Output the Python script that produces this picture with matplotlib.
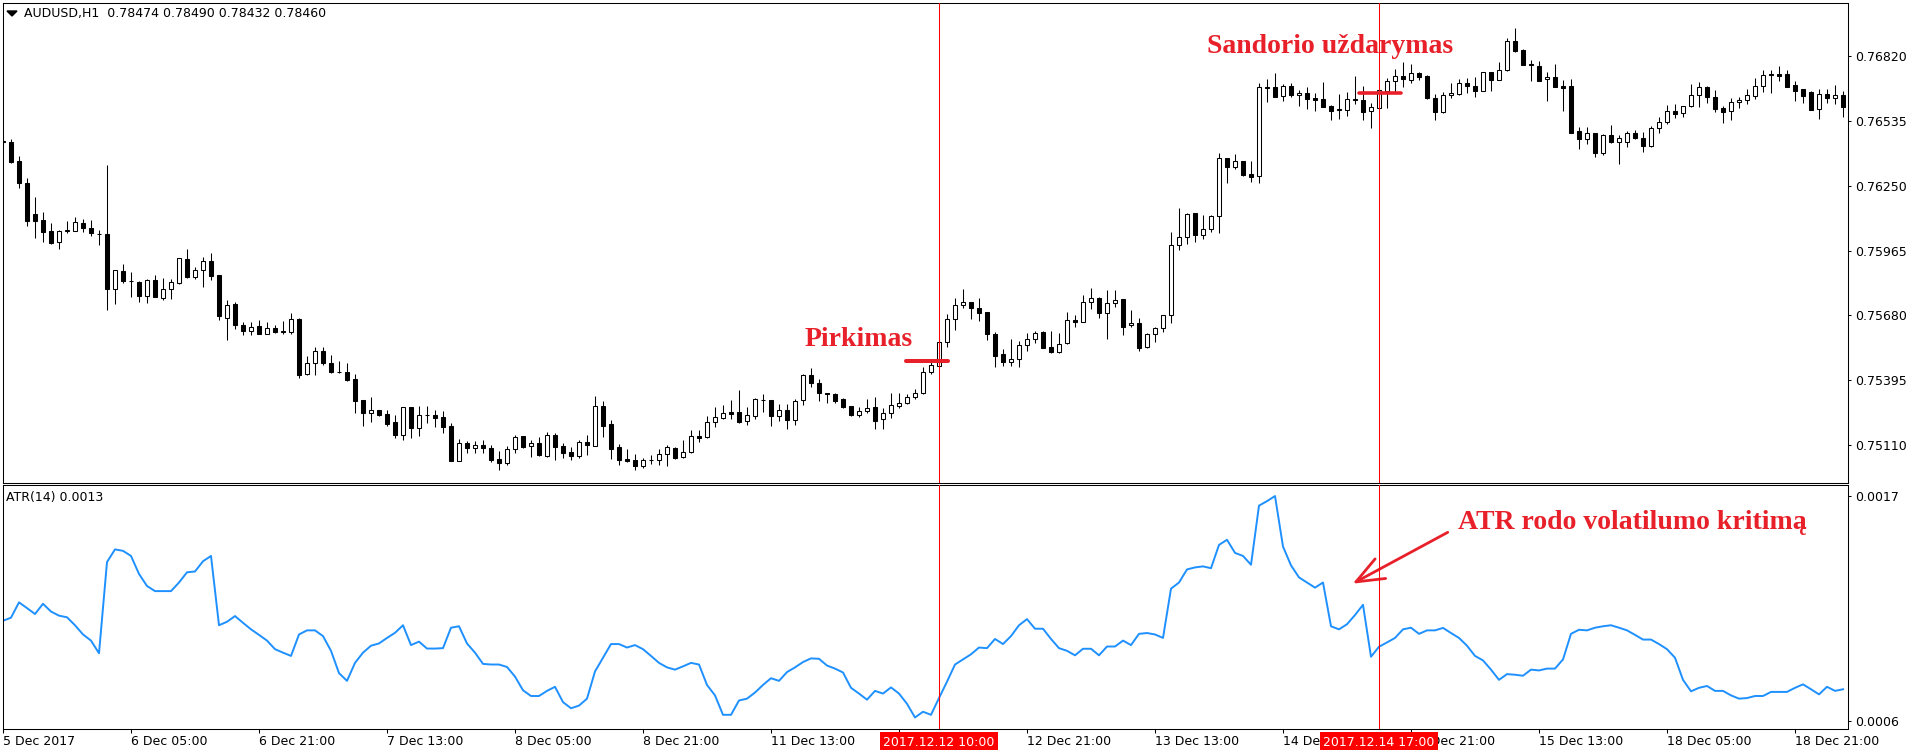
import matplotlib
matplotlib.use('Agg')
import matplotlib.pyplot as plt
import numpy as np
from matplotlib.patches import Polygon

# AUDUSD H1 candles, bar 0 = 5 Dec 13:00
opens = [
    0.76445, 0.76440, 0.76357, 0.76262, 0.76124, 0.76099, 0.76051, 0.76001, 0.76052, 0.76052,
    0.76084, 0.76065, 0.76039, 0.76036, 0.75797, 0.75874, 0.75831, 0.75827, 0.75764, 0.75834,
    0.75758, 0.75794, 0.75824, 0.75926, 0.75850, 0.75878, 0.75917, 0.75856, 0.75667, 0.75729,
    0.75638, 0.75613, 0.75633, 0.75600, 0.75623, 0.75610, 0.75608, 0.75664, 0.75422, 0.75469,
    0.75525, 0.75469, 0.75432, 0.75430, 0.75400, 0.75308, 0.75252, 0.75263, 0.75245, 0.75210,
    0.75154, 0.75276, 0.75186, 0.75244, 0.75242, 0.75235, 0.75194, 0.75041, 0.75118, 0.75096,
    0.75110, 0.75096, 0.75048, 0.75033, 0.75092, 0.75150, 0.75108, 0.75118, 0.75064, 0.75155,
    0.75106, 0.75078, 0.75064, 0.75124, 0.75108, 0.75281, 0.75203, 0.75102, 0.75049, 0.75043,
    0.75020, 0.75043, 0.75043, 0.75069, 0.75096, 0.75056, 0.75078, 0.75150, 0.75144, 0.75210,
    0.75231, 0.75254, 0.75254, 0.75215, 0.75239, 0.75308, 0.75308, 0.75239, 0.75263, 0.75219,
    0.75307, 0.75418, 0.75385, 0.75337, 0.75334, 0.75311, 0.75281, 0.75242, 0.75258, 0.75277,
    0.75223, 0.75249, 0.75280, 0.75293, 0.75320, 0.75337, 0.75430, 0.75459, 0.75565, 0.75663,
    0.75726, 0.75737, 0.75714, 0.75693, 0.75598, 0.75509, 0.75475, 0.75487, 0.75548, 0.75575,
    0.75608, 0.75540, 0.75518, 0.75557, 0.75658, 0.75652, 0.75737, 0.75755, 0.75689, 0.75733,
    0.75750, 0.75638, 0.75647, 0.75540, 0.75597, 0.75625, 0.75680, 0.75988, 0.76023, 0.76128,
    0.76035, 0.76058, 0.76117, 0.76370, 0.76334, 0.76357, 0.76300, 0.76291, 0.76681, 0.76682,
    0.76643, 0.76688, 0.76647, 0.76656, 0.76634, 0.76630, 0.76600, 0.76586, 0.76584, 0.76630,
    0.76627, 0.76577, 0.76593, 0.76668, 0.76709, 0.76731, 0.76715, 0.76744, 0.76732, 0.76634,
    0.76572, 0.76647, 0.76653, 0.76700, 0.76687, 0.76668, 0.76748, 0.76716, 0.76757, 0.76884,
    0.76846, 0.76785, 0.76775, 0.76717, 0.76726, 0.76687, 0.76687, 0.76489, 0.76454, 0.76480,
    0.76395, 0.76471, 0.76441, 0.76441, 0.76480, 0.76458, 0.76426, 0.76502, 0.76528, 0.76577,
    0.76568, 0.76599, 0.76647, 0.76682, 0.76638, 0.76590, 0.76577, 0.76616, 0.76625, 0.76646,
    0.76687, 0.76741, 0.76741, 0.76741, 0.76691, 0.76673, 0.76662, 0.76586, 0.76652, 0.76637,
    0.76647,
]
highs = [
    0.76473, 0.76454, 0.76380, 0.76282, 0.76200, 0.76133, 0.76084, 0.76055, 0.76095, 0.76111,
    0.76105, 0.76098, 0.76057, 0.76341, 0.75878, 0.75904, 0.75871, 0.75831, 0.75838, 0.75857,
    0.75844, 0.75838, 0.75933, 0.75972, 0.75894, 0.75937, 0.75953, 0.75858, 0.75748, 0.75737,
    0.75649, 0.75649, 0.75658, 0.75652, 0.75638, 0.75657, 0.75689, 0.75667, 0.75503, 0.75542,
    0.75542, 0.75506, 0.75479, 0.75469, 0.75422, 0.75310, 0.75320, 0.75266, 0.75264, 0.75242,
    0.75279, 0.75279, 0.75282, 0.75282, 0.75264, 0.75260, 0.75205, 0.75135, 0.75129, 0.75129,
    0.75131, 0.75109, 0.75083, 0.75106, 0.75155, 0.75152, 0.75133, 0.75146, 0.75166, 0.75162,
    0.75118, 0.75100, 0.75131, 0.75155, 0.75326, 0.75304, 0.75221, 0.75114, 0.75093, 0.75071,
    0.75054, 0.75065, 0.75093, 0.75110, 0.75102, 0.75133, 0.75177, 0.75177, 0.75238, 0.75278,
    0.75286, 0.75308, 0.75352, 0.75276, 0.75317, 0.75333, 0.75310, 0.75289, 0.75289, 0.75313,
    0.75422, 0.75447, 0.75400, 0.75341, 0.75337, 0.75315, 0.75283, 0.75278, 0.75311, 0.75322,
    0.75271, 0.75341, 0.75337, 0.75333, 0.75355, 0.75455, 0.75490, 0.75572, 0.75685, 0.75758,
    0.75795, 0.75740, 0.75755, 0.75695, 0.75608, 0.75531, 0.75575, 0.75569, 0.75601, 0.75611,
    0.75611, 0.75611, 0.75601, 0.75696, 0.75682, 0.75771, 0.75799, 0.75759, 0.75792, 0.75792,
    0.75751, 0.75704, 0.75667, 0.75601, 0.75630, 0.75682, 0.76045, 0.76150, 0.76128, 0.76130,
    0.76121, 0.76121, 0.76392, 0.76372, 0.76388, 0.76360, 0.76359, 0.76703, 0.76717, 0.76744,
    0.76697, 0.76700, 0.76671, 0.76682, 0.76659, 0.76706, 0.76603, 0.76653, 0.76660, 0.76734,
    0.76687, 0.76612, 0.76671, 0.76722, 0.76761, 0.76794, 0.76783, 0.76750, 0.76737, 0.76653,
    0.76663, 0.76700, 0.76717, 0.76722, 0.76726, 0.76751, 0.76751, 0.76792, 0.76898, 0.76943,
    0.76849, 0.76802, 0.76796, 0.76748, 0.76785, 0.76715, 0.76717, 0.76507, 0.76507, 0.76482,
    0.76477, 0.76515, 0.76473, 0.76490, 0.76495, 0.76484, 0.76512, 0.76553, 0.76605, 0.76609,
    0.76602, 0.76697, 0.76707, 0.76688, 0.76671, 0.76602, 0.76634, 0.76641, 0.76675, 0.76722,
    0.76758, 0.76758, 0.76776, 0.76758, 0.76710, 0.76675, 0.76666, 0.76673, 0.76675, 0.76693,
    0.76668,
]
lows = [
    0.76421, 0.76348, 0.76241, 0.76074, 0.76022, 0.76004, 0.75995, 0.75973, 0.76041, 0.76050,
    0.76048, 0.76030, 0.75989, 0.75704, 0.75731, 0.75824, 0.75762, 0.75739, 0.75736, 0.75759,
    0.75748, 0.75753, 0.75818, 0.75844, 0.75841, 0.75806, 0.75837, 0.75660, 0.75572, 0.75620,
    0.75594, 0.75595, 0.75597, 0.75597, 0.75604, 0.75597, 0.75597, 0.75406, 0.75418, 0.75419,
    0.75462, 0.75425, 0.75428, 0.75393, 0.75252, 0.75195, 0.75211, 0.75239, 0.75192, 0.75143,
    0.75132, 0.75143, 0.75151, 0.75208, 0.75191, 0.75162, 0.75039, 0.75039, 0.75074, 0.75077,
    0.75077, 0.75037, 0.75002, 0.75024, 0.75077, 0.75099, 0.75059, 0.75062, 0.75056, 0.75046,
    0.75055, 0.75045, 0.75055, 0.75068, 0.75106, 0.75147, 0.75051, 0.75024, 0.75037, 0.75002,
    0.75011, 0.75027, 0.75024, 0.75020, 0.75051, 0.75055, 0.75077, 0.75125, 0.75143, 0.75191,
    0.75223, 0.75226, 0.75209, 0.75198, 0.75226, 0.75257, 0.75194, 0.75218, 0.75182, 0.75198,
    0.75288, 0.75366, 0.75305, 0.75296, 0.75296, 0.75274, 0.75239, 0.75234, 0.75253, 0.75182,
    0.75182, 0.75231, 0.75271, 0.75289, 0.75311, 0.75335, 0.75421, 0.75457, 0.75543, 0.75616,
    0.75711, 0.75666, 0.75657, 0.75572, 0.75453, 0.75459, 0.75459, 0.75452, 0.75525, 0.75557,
    0.75536, 0.75516, 0.75516, 0.75556, 0.75630, 0.75651, 0.75710, 0.75667, 0.75578, 0.75718,
    0.75594, 0.75630, 0.75525, 0.75537, 0.75564, 0.75608, 0.75648, 0.75967, 0.75992, 0.76004,
    0.76014, 0.76048, 0.76041, 0.76263, 0.76322, 0.76293, 0.76268, 0.76260, 0.76618, 0.76640,
    0.76622, 0.76640, 0.76602, 0.76587, 0.76580, 0.76596, 0.76539, 0.76545, 0.76558, 0.76609,
    0.76537, 0.76502, 0.76592, 0.76590, 0.76663, 0.76685, 0.76700, 0.76715, 0.76633, 0.76539,
    0.76571, 0.76634, 0.76649, 0.76656, 0.76638, 0.76667, 0.76668, 0.76715, 0.76756, 0.76839,
    0.76779, 0.76710, 0.76711, 0.76624, 0.76684, 0.76580, 0.76482, 0.76413, 0.76435, 0.76375,
    0.76385, 0.76439, 0.76344, 0.76419, 0.76457, 0.76400, 0.76422, 0.76483, 0.76520, 0.76549,
    0.76553, 0.76594, 0.76597, 0.76612, 0.76575, 0.76527, 0.76540, 0.76590, 0.76608, 0.76632,
    0.76663, 0.76659, 0.76710, 0.76682, 0.76624, 0.76615, 0.76583, 0.76545, 0.76615, 0.76610,
    0.76553,
]
closes = [
    0.76440, 0.76353, 0.76260, 0.76096, 0.76096, 0.76048, 0.76000, 0.76051, 0.76054, 0.76089,
    0.76065, 0.76041, 0.76038, 0.75797, 0.75878, 0.75833, 0.75830, 0.75764, 0.75834, 0.75762,
    0.75794, 0.75825, 0.75931, 0.75850, 0.75878, 0.75917, 0.75852, 0.75677, 0.75726, 0.75636,
    0.75613, 0.75630, 0.75600, 0.75623, 0.75605, 0.75608, 0.75663, 0.75418, 0.75469, 0.75525,
    0.75472, 0.75432, 0.75431, 0.75396, 0.75304, 0.75252, 0.75264, 0.75242, 0.75203, 0.75154,
    0.75276, 0.75186, 0.75242, 0.75242, 0.75230, 0.75191, 0.75041, 0.75118, 0.75096, 0.75110,
    0.75099, 0.75046, 0.75033, 0.75092, 0.75146, 0.75103, 0.75118, 0.75067, 0.75153, 0.75103,
    0.75077, 0.75064, 0.75122, 0.75112, 0.75281, 0.75194, 0.75093, 0.75046, 0.75040, 0.75020,
    0.75043, 0.75045, 0.75069, 0.75102, 0.75055, 0.75078, 0.75149, 0.75143, 0.75210, 0.75232,
    0.75250, 0.75248, 0.75213, 0.75241, 0.75313, 0.75310, 0.75239, 0.75263, 0.75222, 0.75304,
    0.75416, 0.75384, 0.75337, 0.75336, 0.75305, 0.75278, 0.75242, 0.75262, 0.75275, 0.75217,
    0.75249, 0.75284, 0.75293, 0.75321, 0.75337, 0.75430, 0.75461, 0.75562, 0.75663, 0.75724,
    0.75737, 0.75714, 0.75692, 0.75597, 0.75503, 0.75474, 0.75487, 0.75548, 0.75575, 0.75601,
    0.75538, 0.75518, 0.75553, 0.75658, 0.75652, 0.75737, 0.75755, 0.75689, 0.75734, 0.75746,
    0.75630, 0.75647, 0.75538, 0.75597, 0.75625, 0.75680, 0.75988, 0.76023, 0.76126, 0.76035,
    0.76058, 0.76117, 0.76370, 0.76334, 0.76357, 0.76298, 0.76290, 0.76682, 0.76682, 0.76641,
    0.76688, 0.76647, 0.76656, 0.76633, 0.76627, 0.76597, 0.76580, 0.76581, 0.76630, 0.76625,
    0.76575, 0.76594, 0.76669, 0.76709, 0.76731, 0.76717, 0.76744, 0.76726, 0.76635, 0.76572,
    0.76647, 0.76657, 0.76700, 0.76687, 0.76668, 0.76748, 0.76714, 0.76757, 0.76884, 0.76843,
    0.76782, 0.76780, 0.76712, 0.76726, 0.76685, 0.76681, 0.76483, 0.76454, 0.76480, 0.76395,
    0.76471, 0.76443, 0.76458, 0.76480, 0.76458, 0.76426, 0.76502, 0.76528, 0.76577, 0.76567,
    0.76599, 0.76647, 0.76682, 0.76638, 0.76589, 0.76575, 0.76618, 0.76627, 0.76647, 0.76687,
    0.76735, 0.76735, 0.76733, 0.76685, 0.76668, 0.76646, 0.76584, 0.76652, 0.76637, 0.76647,
    0.76597,
]
atr = [
    0.001090, 0.001105, 0.001180, 0.001152, 0.001123, 0.001173, 0.001135, 0.001115, 0.001107, 0.001068,
    0.001023, 0.000993, 0.000931, 0.001377, 0.001439, 0.001432, 0.001407, 0.001319, 0.001260, 0.001235,
    0.001235, 0.001235, 0.001277, 0.001327, 0.001331, 0.001381, 0.001407, 0.001068, 0.001085, 0.001113,
    0.001080, 0.001048, 0.001021, 0.000993, 0.000951, 0.000934, 0.000918, 0.001023, 0.001043, 0.001043,
    0.001015, 0.000943, 0.000834, 0.000796, 0.000884, 0.000934, 0.000968, 0.000979, 0.001006, 0.001031,
    0.001068, 0.000971, 0.000988, 0.000954, 0.000954, 0.000956, 0.001056, 0.001063, 0.000979, 0.000934,
    0.000879, 0.000876, 0.000876, 0.000864, 0.000817, 0.000750, 0.000722, 0.000722, 0.000747, 0.000767,
    0.000692, 0.000662, 0.000675, 0.000709, 0.000842, 0.000909, 0.000976, 0.000976, 0.000959, 0.000971,
    0.000951, 0.000918, 0.000884, 0.000862, 0.000851, 0.000867, 0.000884, 0.000876, 0.000776, 0.000725,
    0.000630, 0.000630, 0.000700, 0.000709, 0.000739, 0.000776, 0.000809, 0.000796, 0.000839, 0.000862,
    0.000888, 0.000906, 0.000904, 0.000871, 0.000856, 0.000837, 0.000762, 0.000734, 0.000704, 0.000747,
    0.000734, 0.000764, 0.000734, 0.000684, 0.000617, 0.000645, 0.000630, 0.000712, 0.000792, 0.000876,
    0.000901, 0.000926, 0.000959, 0.000956, 0.001001, 0.000976, 0.001015, 0.001068, 0.001098, 0.001051,
    0.001051, 0.001001, 0.000956, 0.000943, 0.000921, 0.000953, 0.000953, 0.000921, 0.000964, 0.000964,
    0.000993, 0.000971, 0.001026, 0.001030, 0.001023, 0.001006, 0.001247, 0.001277, 0.001341, 0.001351,
    0.001356, 0.001347, 0.001461, 0.001486, 0.001422, 0.001407, 0.001364, 0.001653, 0.001675, 0.001700,
    0.001453, 0.001361, 0.001302, 0.001277, 0.001252, 0.001277, 0.001063, 0.001048, 0.001073, 0.001118,
    0.001168, 0.000914, 0.000963, 0.000984, 0.001006, 0.001048, 0.001056, 0.001026, 0.001043, 0.001043,
    0.001055, 0.001030, 0.001006, 0.000968, 0.000918, 0.000896, 0.000851, 0.000801, 0.000829, 0.000826,
    0.000821, 0.000851, 0.000847, 0.000856, 0.000856, 0.000901, 0.001026, 0.001046, 0.001043, 0.001056,
    0.001063, 0.001068, 0.001056, 0.001043, 0.001021, 0.000998, 0.000998, 0.000976, 0.000951, 0.000909,
    0.000801, 0.000745, 0.000762, 0.000771, 0.000747, 0.000747, 0.000725, 0.000709, 0.000712, 0.000722,
    0.000722, 0.000742, 0.000742, 0.000742, 0.000762, 0.000779, 0.000755, 0.000730, 0.000767, 0.000747,
    0.000755,
]

price_ticks = [0.75110, 0.75395, 0.75680, 0.75965, 0.76250, 0.76535, 0.76820]
atr_ticks = [0.0006, 0.0017]
# the 12 Dec 05:00 label sits fully under the red time box, so it is left blank
time_bars = [0, 16, 32, 48, 64, 80, 96, 112, 128, 144, 160, 176, 192, 208, 224]
time_labels = ['5 Dec 2017', '6 Dec 05:00', '6 Dec 21:00', '7 Dec 13:00', '8 Dec 05:00',
               '8 Dec 21:00', '11 Dec 13:00', '', '12 Dec 21:00', '13 Dec 13:00',
               '14 Dec 05:00', '14 Dec 21:00', '15 Dec 13:00', '18 Dec 05:00', '18 Dec 21:00']
buy_bar, buy_price = 117, 0.75481
sell_bar, sell_price = 172, 0.76656

RED = '#E8202A'
W, H = 1916, 750

def fx(px):
    return px / W

def fy(py):
    return 1 - py / H

fig = plt.figure(figsize=(W / 100, H / 100), dpi=100)
ax = fig.add_axes([fx(2.5), fy(482.5), fx(1848) - fx(2.5), fy(2.5) - fy(482.5)])
ax2 = fig.add_axes([fx(2.5), fy(729), fx(1848) - fx(2.5), fy(485) - fy(729)])

o = np.array(opens)
h = np.array(highs)
l = np.array(lows)
c = np.array(closes)
x = np.arange(len(o))
up = c >= o

# candles: wicks first, bodies on top
ax.vlines(x, l, h, color='black', lw=0.75, zorder=2)
ax.bar(x, np.abs(c - o), bottom=np.minimum(o, c), width=0.6,
       color=np.where(up, 'white', 'black'), edgecolor='black', linewidth=0.75, zorder=3)

ax.set_xlim(-0.0625, 230.625)
ax.set_ylim(0.749456, 0.770551)
ax.set_xticks([])
ax.yaxis.tick_right()
ax.set_yticks(price_ticks)
ax.set_yticklabels([f'{v:.5f}' for v in price_ticks])
ax.tick_params(axis='y', direction='out', length=2.2, width=0.75, pad=2.9, labelsize=9)

# ATR window
ax2.plot(x, atr, color='#1E90FF', lw=1.4)
ax2.set_xlim(-0.0625, 230.625)
ax2.set_ylim(0.0005606, 0.001754)
ax2.yaxis.tick_right()
ax2.set_yticks(atr_ticks)
ax2.set_yticklabels(['0.0006', '0.0017'])
ax2.tick_params(axis='y', direction='out', length=2.2, width=0.75, pad=2.9, labelsize=9)
ax2.set_xticks(time_bars)
ax2.set_xticklabels(time_labels, ha='left')
ax2.tick_params(axis='x', direction='out', length=3, width=0.75, pad=1.5, labelsize=9)

for a in (ax, ax2):
    for s in a.spines.values():
        s.set_linewidth(0.75)
        s.set_color('black')
    a.axvline(buy_bar, color='#FF0000', lw=0.75, zorder=4)
    a.axvline(sell_bar, color='#FF0000', lw=0.75, zorder=4)

# red time boxes at the vertical lines
for bar, txt in [(buy_bar, '2017.12.12 10:00'), (sell_bar, '2017.12.14 17:00')]:
    ax2.text(bar, -0.055, txt, transform=ax2.get_xaxis_transform(), ha='center', va='center',
             color='white', fontsize=9, clip_on=False, zorder=10,
             bbox=dict(boxstyle='square,pad=0.3', fc='#FF0000', ec='none'))

# header and indicator name
fig.text(fx(24), fy(14), 'AUDUSD,H1  0.78474 0.78490 0.78432 0.78460', va='center', fontsize=9)
fig.add_artist(Polygon([[fx(7), fy(11)], [fx(17), fy(11)], [fx(12), fy(16)]],
                       closed=True, color='black', transform=fig.transFigure))
fig.text(fx(6), fy(497), 'ATR(14) 0.0013', va='center', fontsize=9)

# annotations
font = dict(family='Liberation Serif', weight='bold', size=20, color=RED)
ax.text(100.25, 0.75545, 'Pirkimas', va='baseline', ha='left', zorder=6, **font)
ax.text(150.5, 0.76833, 'Sandorio uždarymas', va='baseline', ha='left', zorder=6, **font)
ax.plot([112.9, 118.1], [buy_price, buy_price], color=RED, lw=2.9, solid_capstyle='round', zorder=6)
ax.plot([169.5, 174.8], [sell_price, sell_price], color=RED, lw=2.6, solid_capstyle='round', zorder=6)

ax2.text(181.9, 0.001539, 'ATR rodo volatilumo kritimą', va='baseline', ha='left', zorder=6, **font)
ax2.annotate('', xy=(168.4, 0.001265), xytext=(180.9, 0.001529),
             arrowprops=dict(arrowstyle='->,head_length=1.0,head_width=0.4',
                             mutation_scale=20, color=RED, lw=2))

fig.savefig('out.png', dpi=100)
plt.close(fig)
